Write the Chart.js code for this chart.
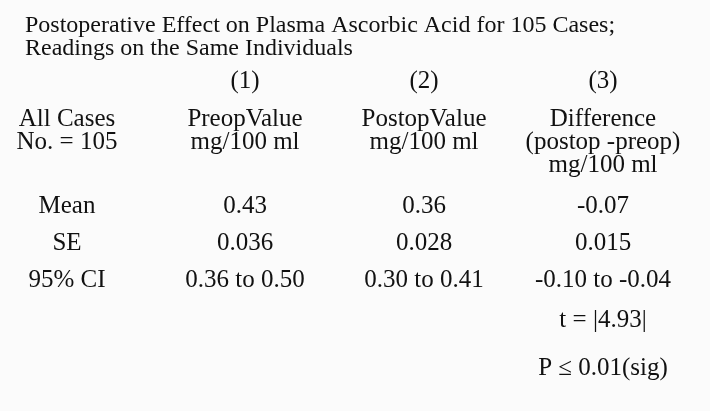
<!DOCTYPE html>
<html>
<head>
    <title>Plasma Ascorbic Acid</title>
    <script src="https://cdn.jsdelivr.net/npm/chart.js@4.4.1/dist/chart.umd.min.js"></script>
    <style>
        body { margin: 0; background: #fbfbfb; }
        #wrap { width: 710px; height: 411px; }
    </style>
</head>
<body>
    <div id="wrap"><canvas id="ctx"></canvas></div>

    <script>
        // table contents
        const titleLines = ['Postoperative Effect on Plasma Ascorbic Acid for 105 Cases;',
                            'Readings on the Same Individuals'];
        const colNumbers = ['', '(1)', '(2)', '(3)'];
        const colHeaders = [
            ['All Cases', 'No. = 105'],
            ['PreopValue', 'mg/100 ml'],
            ['PostopValue', 'mg/100 ml'],
            ['Difference', '(postop -preop)', 'mg/100 ml']
        ];
        const rowLabels = ['Mean', 'SE', '95% CI'];
        const preop = ['0.43', '0.036', '0.36 to 0.50'];
        const postop = ['0.36', '0.028', '0.30 to 0.41'];
        const diff = ['-0.07', '0.015', '-0.10 to -0.04'];
        const extraNotes = ['t = |4.93|', 'P \u2264 0.01(sig)'];

        // layout (canvas units, used through the scales)
        const colX = [67, 245, 424, 603];
        const titleX = 25;
        const titleY = [32, 55];
        const numY = 88;
        const headY = [126, 149, 172];
        const rowY = [213, 250, 287];
        const noteY = [327, 375];

        const cols = [rowLabels, preop, postop, diff];

        // one invisible point per cell so every cell lives on the scales
        const cells = [];
        cols.forEach((c, ci) => c.forEach((txt, ri) => cells.push({x: colX[ci], y: rowY[ri], text: txt})));
        colHeaders.forEach((h, ci) => h.forEach((txt, li) => cells.push({x: colX[ci], y: headY[li], text: txt})));
        colNumbers.forEach((txt, ci) => { if (txt) cells.push({x: colX[ci], y: numY, text: txt}); });
        extraNotes.forEach((txt, i) => cells.push({x: colX[3], y: noteY[i], text: txt}));

        const tableText = {
            id: 'tableText',
            afterDatasetsDraw(chart) {
                const c = chart.ctx;
                const xs = chart.scales.x, ys = chart.scales.y;
                c.save();
                c.fillStyle = '#111';
                c.textBaseline = 'alphabetic';
                c.font = '24px "Liberation Serif", serif';
                c.textAlign = 'left';
                titleLines.forEach((t, i) => c.fillText(t, xs.getPixelForValue(titleX), ys.getPixelForValue(titleY[i])));
                c.font = '25px "Liberation Serif", serif';
                c.textAlign = 'center';
                chart.data.datasets[0].data.forEach(p => {
                    c.fillText(p.text, xs.getPixelForValue(p.x), ys.getPixelForValue(p.y));
                });
                c.restore();
            }
        };

        new Chart(document.getElementById('ctx'), {
            type: 'scatter',
            data: {
                datasets: [{
                    data: cells,
                    pointRadius: 0,
                    pointHoverRadius: 0
                }]
            },
            options: {
                responsive: true,
                maintainAspectRatio: false,
                animation: false,
                layout: { padding: 0 },
                plugins: { legend: { display: false }, tooltip: { enabled: false } },
                scales: {
                    x: { type: 'linear', min: 0, max: 710, display: false },
                    y: { type: 'linear', min: 0, max: 411, reverse: true, display: false }
                }
            },
            plugins: [tableText]
        });
    </script>
</body>
</html>
